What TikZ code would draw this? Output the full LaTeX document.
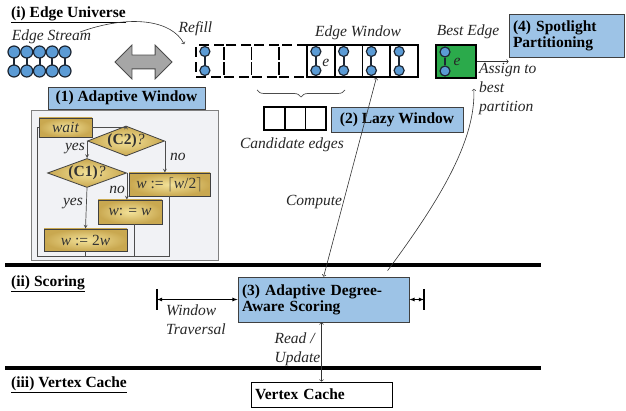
\documentclass[tikz,border=0pt]{standalone}
\usepackage{fontspec}
\setmainfont{Liberation Serif}
\usetikzlibrary{arrows,shapes.geometric,shapes.arrows,decorations.pathreplacing,positioning}
\definecolor{boxblue}{HTML}{9DC3E6}
\definecolor{panelgray}{HTML}{F1F2F5}
\definecolor{goldD}{HTML}{C9A850}
\definecolor{goldL}{HTML}{F3E299}
\definecolor{vblue}{HTML}{5B9BD5}
\definecolor{vline}{HTML}{1C2633}
\definecolor{bestgreen}{HTML}{2BAA4B}
\definecolor{flowgray}{HTML}{4D4D4D}

\begin{document}
\begin{tikzpicture}[x=1pt,y=-1pt,>=stealth,font=\fontsize{15.5}{17}\selectfont,
    lbl/.style={font=\fontsize{15.5}{19}\selectfont\itshape,text=black!85,inner sep=1pt},
    head/.style={font=\fontsize{15.5}{17}\selectfont\bfseries,anchor=west,inner sep=0},
    bluebox/.style={draw=black!75,fill=boxblue,line width=0.8pt,inner sep=0,font=\fontsize{15.5}{17}\selectfont\bfseries},
    goldbox/.style={draw=black!75,inner color=goldL,outer color=goldD,line width=0.8pt,inner sep=0,text=black!80},
    golddia/.style={goldbox,diamond,aspect=2.6},
    vtx/.style={circle,draw=vline,fill=vblue,line width=1.2pt,minimum size=10pt,inner sep=0},
    pair/.style={draw=vline,line width=2pt},
    cell/.style={draw,line width=1.6pt,minimum width=27.75pt,minimum height=32pt,inner sep=0},
    dcell/.style={cell,dash pattern=on 10pt off 5pt},
    flow/.style={draw=flowgray,line width=0.7pt},
    thin/.style={draw=black!80,line width=0.6pt,>=to}]
    \useasboundingbox (0,0) rectangle (626,411);

    % section titles and separators
    \node[head] (t1) at (11,15) {\underline{(i) Edge Universe}};
    \node[head] (t2) at (11,284) {\underline{(ii) Scoring}};
    \node[head] (t3) at (11,385) {\underline{(iii) Vertex Cache}};
    \draw[line width=4pt] (5,265) -- (541,265);
    \draw[line width=4pt] (5,368) -- (541,368);

    % edge stream
    \node[lbl] (stream) at (51.5,37) {Edge Stream};
    \foreach \i in {0,...,4} {
        \draw[pair] ({14+12.75*\i},52) -- ({14+12.75*\i},71);
        \node[vtx,minimum size=12pt] (s\i t) at ({14+12.75*\i},52) {};
        \node[vtx,minimum size=12pt] (s\i b) at ({14+12.75*\i},71) {};
    }
    \node[double arrow,draw=black!70,fill=black!35,line width=0.8pt,inner sep=6.5pt,
          minimum height=57pt,double arrow head extend=10pt] (swap) at (143.5,62) {};

    % edge window
    \foreach \i in {1,...,4} {
        \node[dcell] (d\i) at ({196+27.75*(\i-0.5)},61) {};
        \node[cell] (c\i) at ({307+27.75*(\i-0.5)},61) {};
    }
    \foreach \c in {d1,c1,c2,c3,c4} {
        \node[vtx] (\c t) at ([xshift=-5pt,yshift=9.5pt]\c.center) {};
        \node[vtx] (\c b) at ([xshift=-5pt,yshift=-9.5pt]\c.center) {};
        \draw[pair] (\c t) -- (\c b);
    }
    \node[lbl] at ([xshift=5pt,yshift=-2pt]c1.center) {e};
    \node[lbl] (ewin) at (358,33) {Edge Window};
    \node[lbl] (refill) at (195.5,29) {Refill};
    \coordinate (rs) at (80,32);
    \draw[thin,->] (rs) .. controls (130,14) and (172,20) .. ([xshift=-11pt]d1.north west);

    % candidate edges
    \draw[black!70,line width=0.7pt,decorate,decoration={brace,amplitude=7pt}] (345,90) -- (257,90);
    \foreach \i in {1,2,3}
        \node[cell,minimum width=20.7pt,minimum height=23pt] (k\i) at ({264+20.7*(\i-0.5)},118.5) {};
    \node[lbl] (cand) at (292,145) {Candidate edges};
    \node[bluebox,minimum width=132pt,minimum height=25pt] (lazy) at (397,119.5) {(2) Lazy Window};

    % best edge
    \node[cell,fill=bestgreen,minimum width=40pt,minimum height=33pt] (best) at (456,61.5) {};
    \node[vtx] (bt) at ([xshift=-11pt,yshift=9.5pt]best.center) {};
    \node[vtx] (bb) at ([xshift=-11pt,yshift=-9.5pt]best.center) {};
    \draw[pair] (bt) -- (bb);
    \node[lbl] at ([xshift=1pt]best.center) {e};
    \node[lbl] (blbl) at (468,32) {Best Edge};
    \node[bluebox,minimum width=115pt,minimum height=43pt,text width=107pt,align=left] (spot) at (566.5,35.5)
        {(4) Spotlight\\[-1pt]Partitioning};
    \draw[thin,->] (best.east) -- (best.east -| spot.west);
    \node[lbl,anchor=north west,align=left] (assign) at (478,62) {Assign to\\best\\partition};

    % adaptive window
    \node[draw=black!50,fill=panelgray,line width=0.8pt,minimum width=187pt,minimum height=150pt] (panel) at (124.5,185) {};
    \node[bluebox,minimum width=157pt,minimum height=22pt] (aw) at (126.5,98) {(1) Adaptive Window};
    \node[goldbox,minimum width=53pt,minimum height=19pt,font=\fontsize{15.5}{17}\selectfont\itshape] (wait) at (65.5,127.5) {wait};
    \node[golddia,minimum width=77pt,minimum height=30pt] (cq2) at (126,141) {\textbf{(C2)}\textit{?}};
    \node[golddia,minimum width=79pt,minimum height=29pt] (cq1) at (87,173) {\textbf{(C1)}\textit{?}};
    \node[goldbox,minimum width=81pt,minimum height=23pt] (half) at (169.5,184.5) {\textit{w} := $\lceil$\textit{w}/2$\rceil$};
    \node[goldbox,minimum width=64pt,minimum height=24pt] (keep) at (130,212) {\textit{w}: = \textit{w}};
    \node[goldbox,minimum width=83pt,minimum height=22pt] (dbl) at (85.5,240) {\textit{w} := 2\textit{w}};
    \coordinate (fb) at (37,256);
    \draw[flow,->] (wait.east) -| (cq2.north);
    \draw[flow,->] (cq2.west) -- (cq2.west |- cq1.north);
    \draw[flow,->] (cq2.east) -- (cq2.east |- half.north);
    \draw[flow,->] (cq1.east) -- (cq1.east |- keep.north);
    \draw[flow,->] (cq1.south) -- (dbl.north);
    \draw[flow] (half.south) -- (half.south |- fb) -- (fb) |- (wait.west);
    \draw[flow] ([xshift=4pt]keep.south) -- ([xshift=4pt]keep.south |- fb);
    \draw[flow] (dbl.south) -- (dbl.south |- fb);
    \node[lbl,anchor=east] at (86,149) {yes};
    \node[lbl,anchor=west] at (169,157) {no};
    \node[lbl,anchor=east] at (126,190) {no};
    \node[lbl,anchor=east] at (84,204) {yes};

    % scoring
    \node[bluebox,minimum width=171pt,minimum height=45pt,text width=163pt,align=left] (score) at (323.5,299.5)
        {(3) Adaptive Degree-\\[-1pt]Aware Scoring};
    \coordinate (wl) at (157,299.5);
    \coordinate (wr) at (424,299.5);
    \draw[line width=2.5pt] ([yshift=10.5pt]wl) -- ([yshift=-10.5pt]wl);
    \draw[line width=2.5pt] ([yshift=10.5pt]wr) -- ([yshift=-10.5pt]wr);
    \draw[<->,>=latex,line width=0.8pt] (wl) -- (score.west);
    \draw[<->,>=latex,line width=0.8pt] (score.east) -- (wr);
    \node[lbl,anchor=north west,align=left] (trav) at (165,304) {Window\\Traversal};
    \draw[thin,<->] ([xshift=86pt]score.north west) -- node[lbl,left,pos=0.375] {Compute} (c3.south);
    \draw[thin,->] ([xshift=150pt,yshift=6pt]score.north west) .. controls (440,200) and (476,140) .. ([xshift=-3pt,yshift=-10pt]best.south east);

    % vertex cache
    \node[draw,line width=0.8pt,minimum width=141pt,minimum height=25pt,text width=133pt,align=left,
          font=\fontsize{15.5}{17}\selectfont\bfseries,inner sep=0] (cache) at (321.5,394.5) {Vertex Cache};
    \draw[thin,<->] (score.south -| cache.north) -- node[lbl,left,pos=0.45,align=left] {Read /\\Update} (cache.north);
\end{tikzpicture}
\end{document}
